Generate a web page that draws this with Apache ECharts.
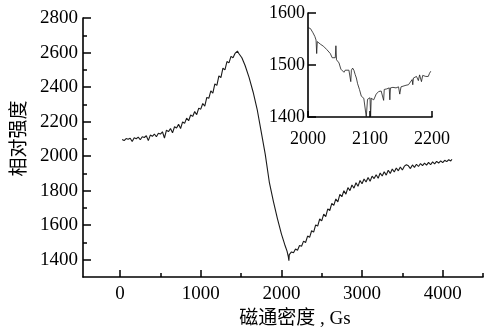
<!DOCTYPE html>
<html>
<head>
<meta charset="utf-8">
<script src="https://cdn.jsdelivr.net/npm/echarts@6/dist/echarts.min.js"></script>
<style>
  html, body { margin: 0; background: #fff; }
  #chart { width: 488px; height: 327px; }
</style>
</head>
<body>
<div id="chart"></div>
<script>
// magnetic field (Gs) vs relative intensity
const mainCurve = [
  [25, 2096], [50, 2090], [75, 2102], [100, 2098], [125, 2104], [150, 2085], [175, 2106], [200, 2101],
  [225, 2110], [250, 2095], [275, 2112], [300, 2108], [325, 2118], [350, 2090], [375, 2122], [400, 2115],
  [425, 2128], [450, 2112], [475, 2133], [500, 2128], [525, 2141], [550, 2105], [575, 2150], [600, 2142],
  [625, 2160], [650, 2135], [675, 2170], [700, 2163], [725, 2184], [750, 2160], [775, 2198], [800, 2190],
  [825, 2220], [850, 2205], [875, 2238], [900, 2230], [925, 2258], [950, 2240], [975, 2278], [1000, 2272],
  [1025, 2305], [1050, 2290], [1075, 2340], [1100, 2335], [1125, 2378], [1150, 2365], [1175, 2418], [1200, 2410],
  [1225, 2465], [1250, 2455], [1275, 2510], [1300, 2500], [1325, 2548], [1350, 2540], [1375, 2578], [1400, 2570],
  [1425, 2595], [1440, 2585], [1455, 2608], [1470, 2596], [1490, 2595], [1510, 2570], [1550, 2525], [1600, 2455],
  [1650, 2370], [1700, 2270], [1750, 2140], [1800, 2010], [1850, 1850], [1900, 1740], [1950, 1640], [2000, 1550],
  [2040, 1490], [2070, 1450], [2085, 1420], [2093, 1395], [2098, 1430], [2110, 1440], [2125, 1445], [2150, 1440],
  [2175, 1462], [2200, 1455], [2225, 1482], [2250, 1478], [2275, 1508], [2300, 1500], [2325, 1537], [2350, 1530],
  [2375, 1568], [2400, 1560], [2425, 1602], [2450, 1595], [2475, 1636], [2500, 1625], [2525, 1664], [2550, 1650],
  [2575, 1695], [2600, 1685], [2625, 1726], [2650, 1715], [2675, 1752], [2700, 1735], [2725, 1778], [2750, 1765],
  [2775, 1800], [2800, 1780], [2825, 1818], [2850, 1800], [2875, 1833], [2900, 1815], [2925, 1846], [2950, 1825],
  [2975, 1859], [3000, 1840], [3025, 1868], [3050, 1850], [3075, 1876], [3100, 1855], [3125, 1884], [3150, 1870],
  [3175, 1892], [3200, 1872], [3225, 1902], [3250, 1885], [3275, 1910], [3300, 1890], [3325, 1918], [3350, 1900],
  [3375, 1925], [3400, 1908], [3425, 1931], [3450, 1915], [3475, 1937], [3500, 1920], [3525, 1942], [3550, 1950],
  [3575, 1944], [3600, 1928], [3625, 1949], [3650, 1935], [3675, 1953], [3700, 1940], [3725, 1957], [3750, 1945],
  [3775, 1960], [3800, 1948], [3825, 1964], [3850, 1950], [3875, 1967], [3900, 1955], [3925, 1970], [3950, 1960],
  [3975, 1973], [4000, 1962], [4025, 1976], [4050, 1968], [4075, 1979], [4100, 1972], [4115, 1982]
];

// zoomed inset, 2000-2200 Gs
const insetCurve = [
  [2000, 1572], [2004, 1570], [2008, 1562], [2011, 1555], [2013, 1548], [2014, 1522], [2015, 1545], [2017, 1542],
  [2020, 1540], [2025, 1536], [2030, 1530], [2033, 1527], [2036, 1522], [2039, 1514], [2042, 1512], [2044, 1514],
  [2045, 1537], [2046, 1510], [2050, 1504], [2053, 1492], [2055, 1490], [2058, 1486], [2060, 1490], [2063, 1488],
  [2066, 1490], [2068, 1490], [2069, 1468], [2070, 1490], [2072, 1494], [2074, 1490], [2076, 1482], [2078, 1475],
  [2080, 1464], [2083, 1453], [2086, 1440], [2090, 1436], [2093, 1434], [2094, 1400], [2096, 1434], [2100, 1437],
  [2101, 1402], [2102, 1436], [2106, 1433], [2110, 1444], [2114, 1449], [2118, 1450], [2121, 1453], [2122, 1432],
  [2123, 1453], [2127, 1454], [2131, 1456], [2132, 1433], [2133, 1456], [2137, 1457], [2142, 1456], [2146, 1458],
  [2148, 1444], [2150, 1458], [2153, 1459], [2158, 1461], [2162, 1462], [2165, 1464], [2168, 1472], [2169, 1462],
  [2170, 1475], [2175, 1478], [2178, 1470], [2180, 1481], [2183, 1468], [2185, 1480], [2190, 1478], [2194, 1478],
  [2196, 1484], [2198, 1488]
];

const xMajorTicks = [0, 1000, 2000, 3000, 4000];
const xMinorTicks = [500, 1500, 2500, 3500, 4500];
const yMajorTicks = [1400, 1600, 1800, 2000, 2200, 2400, 2600, 2800];
const yMinorTicks = [1500, 1700, 1900, 2100, 2300, 2500, 2700];
const insetXTicks = [2000, 2100, 2200];
const insetYTicks = [1400, 1500, 1600];

const serif = "'Liberation Serif', 'Noto Sans CJK SC', serif";
const plain = (v) => String(v);

// an axis that draws only a set of inward ticks
function tickAxis(gridIndex, position, min, max, values, length) {
  return {
    type: "value", gridIndex, position, min, max,
    axisLine: { show: false, onZero: false },
    splitLine: { show: false },
    axisTick: { show: true, inside: true, length, customValues: values, lineStyle: { color: "#000", width: 1.5 } },
    axisLabel: { show: false }
  };
}

// an axis that draws the line and the labels
function labelAxis(gridIndex, position, min, max, values, fontSize, margin) {
  return {
    type: "value", gridIndex, position, min, max,
    axisLine: { show: true, onZero: false, lineStyle: { color: "#000", width: 1.6 } },
    splitLine: { show: false },
    axisTick: { show: false },
    axisLabel: { customValues: values, formatter: plain, color: "#000", fontSize, margin, fontFamily: serif }
  };
}

const xMain = labelAxis(0, "bottom", -460, 4500, xMajorTicks, 19, 8);
xMain.name = "磁通密度 , Gs";
xMain.nameLocation = "middle";
xMain.nameGap = 33;
xMain.nameTextStyle = { color: "#000", fontSize: 19, fontFamily: serif, padding: [0, 0, 0, 24] };

const yMain = labelAxis(0, "left", 1300, 2800, yMajorTicks, 19, 5);
yMain.name = "相对强度";
yMain.nameLocation = "middle";
yMain.nameGap = 49;
yMain.nameRotate = 90;
yMain.nameTextStyle = { color: "#000", fontSize: 19, fontFamily: serif, padding: [0, 0, 0, 18] };

const chart = echarts.init(document.getElementById("chart"));

chart.setOption({
  animation: false,
  backgroundColor: "#fff",
  textStyle: { fontFamily: serif },
  grid: [
    { left: 83, right: 5, top: 18, bottom: 50, outerBoundsMode: "none" },
    { left: 308, top: 13, width: 124, height: 104, outerBoundsMode: "none" }
  ],
  xAxis: [
    xMain,
    tickAxis(0, "bottom", -460, 4500, xMajorTicks, 7),
    tickAxis(0, "bottom", -460, 4500, xMinorTicks, 4),
    labelAxis(1, "bottom", 2000, 2200, insetXTicks, 18, 13),
    tickAxis(1, "bottom", 2000, 2200, insetXTicks, 6)
  ],
  yAxis: [
    yMain,
    tickAxis(0, "left", 1300, 2800, yMajorTicks, 8),
    tickAxis(0, "left", 1300, 2800, yMinorTicks, 4),
    labelAxis(1, "left", 1400, 1600, insetYTicks, 18, 3),
    tickAxis(1, "left", 1400, 1600, insetYTicks, 8)
  ],
  series: [
    {
      type: "line", xAxisIndex: 0, yAxisIndex: 0,
      data: mainCurve, showSymbol: false,
      lineStyle: { color: "#1a1a1a", width: 1.1 }
    },
    {
      type: "line", xAxisIndex: 3, yAxisIndex: 3,
      data: insetCurve, showSymbol: false,
      lineStyle: { color: "#1a1a1a", width: 0.8 }
    }
  ]
});
</script>
</body>
</html>
